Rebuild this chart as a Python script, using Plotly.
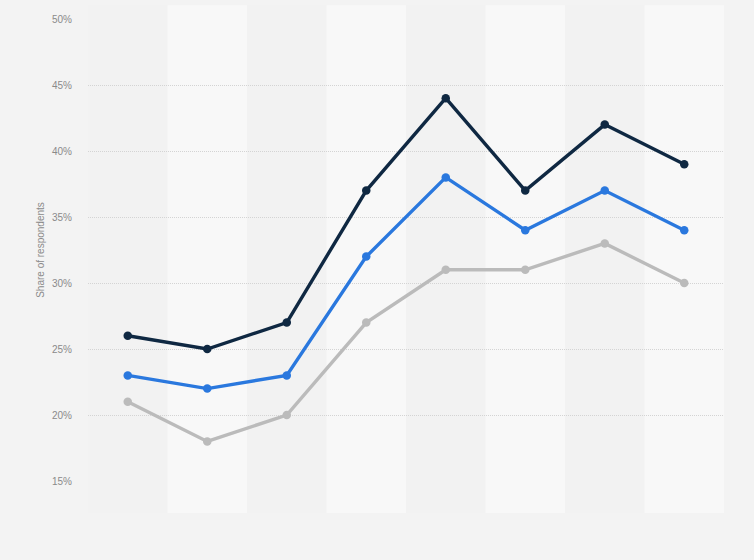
import plotly.graph_objects as go

categories = ["C1", "C2", "C3", "C4", "C5", "C6", "C7", "C8"]
series_dark = [26, 25, 27, 37, 44, 37, 42, 39]
series_blue = [23, 22, 23, 32, 38, 34, 37, 34]
series_gray = [21, 18, 20, 27, 31, 31, 33, 30]
y_ticks = [15, 20, 25, 30, 35, 40, 45, 50]
y_tick_labels = [f"{v}%" for v in y_ticks]

fig = go.Figure()
for vals, color in [(series_gray, "#bbbbbb"), (series_blue, "#2a78de"), (series_dark, "#0f2842")]:
    fig.add_trace(go.Scatter(
        x=list(range(len(categories))), y=vals, mode="lines+markers",
        line=dict(color=color, width=3.4), marker=dict(color=color, size=8.5),
        hoverinfo="y", showlegend=False,
    ))

shapes = []
for i in range(len(categories)):
    shapes.append(dict(
        type="rect", xref="x", yref="paper", x0=i - 0.5, x1=i + 0.5, y0=-0.069, y1=1.03,
        fillcolor="#f2f2f2" if i % 2 == 0 else "#f8f8f8", line=dict(width=0), layer="below",
    ))

fig.update_layout(
    width=754, height=560,
    margin=dict(l=88, r=30, t=19, b=79),
    paper_bgcolor="#f3f3f3", plot_bgcolor="rgba(0,0,0,0)",
    shapes=shapes,
    font=dict(family="Liberation Sans, Arial, sans-serif", size=10, color="#8a8a8a"),
    xaxis=dict(range=[-0.5, 7.5], showticklabels=False, showgrid=False, zeroline=False, showline=False),
    yaxis=dict(
        range=[15, 50], tickvals=y_ticks, ticktext=y_tick_labels,
        showgrid=True, gridcolor="#d4d4d4", griddash="1px,1px", gridwidth=1,
        zeroline=False, showline=False, ticklabelstandoff=15,
        title=dict(text="Share of respondents", font=dict(size=10, color="#8a8a8a"), standoff=5),
    ),
)

fig.write_html(
    "out.html",
    config={"displayModeBar": False},
    post_script="document.body.style.margin='0';document.body.style.background='#f3f3f3';",
)
